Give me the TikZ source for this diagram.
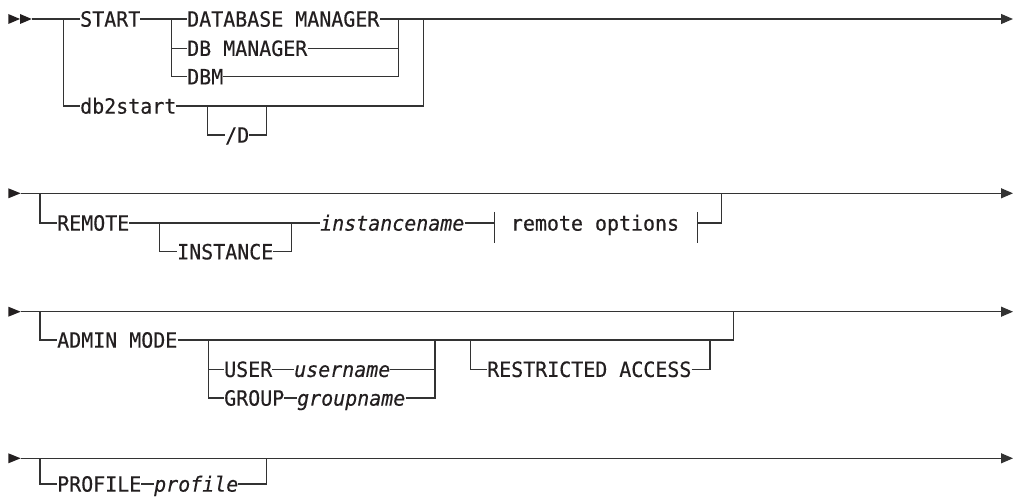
\documentclass[tikz,border=0pt]{standalone}
\usepackage{fontspec}
\setmonofont{DejaVu Sans Mono}[FakeStretch=0.95,FakeBold=0.4]
\usetikzlibrary{arrows.meta}
\definecolor{Rail}{HTML}{333333}
\definecolor{Ink}{HTML}{231F20}

\begin{document}
\begin{tikzpicture}[x=1pt,y=-1pt,
    rail/.style={Rail,line width=1.2pt},
    kw/.style={anchor=west,inner sep=0pt,text height=15.3pt,text depth=0pt,text=Ink,font=\ttfamily\fontsize{21}{25}\selectfont},
    var/.style={kw,font=\ttfamily\itshape\fontsize{21}{25}\selectfont},
    tip/.style={-{Triangle[length=12pt,width=10pt]}}]
    \useasboundingbox (0,0) rectangle (1015,497);
    \coordinate (s1) at (31.7,19);\coordinate (e1) at (1013,19);
    \coordinate (a1) at (63.3,19);\coordinate (b1) at (423.3,19);
    \coordinate (a2) at (171.7,19);\coordinate (b2) at (398.3,19);
    \coordinate (c2) at (207.3,106);\coordinate (d2) at (266.7,106);
    \node[kw] (start) at (80,19) {START};
    \node[kw] (dbm1) at (187,19) {DATABASE MANAGER};
    \node[kw] (dbm2) at (187,48.3) {DB MANAGER};
    \node[kw] (dbm3) at (187,76.7) {DBM};
    \node[kw] (db2) at (80,106) {db2start};
    \node[kw] (sd) at (225,135) {/D};
    \fill[Ink] (8.3,14) -- (20,19) -- (8.3,24) -- cycle;
    \fill[Ink] (20,14) -- (31.7,19) -- (20,24) -- cycle;
    \draw[rail] (s1) -- (start);\draw[rail] (start) -- (dbm1);\draw[rail,tip] (dbm1) -- (e1);
    \draw[rail] (a1) |- (db2);\draw[rail] (db2) -| (b1);
    \draw[rail] (a2) |- (dbm2);\draw[rail] (a2) |- (dbm3);
    \draw[rail] (dbm2) -| (b2);\draw[rail] (dbm3) -| (b2);
    \draw[rail] (c2) |- (sd);\draw[rail] (sd) -| (d2);

    \coordinate (s2) at (20.7,193.3);\coordinate (e2) at (1013,193.3);
    \coordinate (a3) at (40,193.3);\coordinate (j2) at (721.7,193.3);
    \coordinate (c3) at (159.3,223);\coordinate (d3) at (291.7,223);
    \coordinate (ro1) at (494.3,223);\coordinate (ro2) at (697.7,223);
    \node[kw] (remote) at (57,223) {REMOTE};
    \node[kw] (inst) at (177,251.7) {INSTANCE};
    \node[var] (instname) at (320,223) {instancename};
    \node[kw,anchor=center] (remopt) at (595,223) {remote options};
    \fill[Ink] (8.3,188.3) -- (20.7,193.3) -- (8.3,198.3) -- cycle;
    \draw[rail,tip] (s2) -- (e2);
    \draw[rail] (a3) |- (remote);\draw[rail] (remote) -- (instname);
    \draw[rail] (c3) |- (inst);\draw[rail] (inst) -| (d3);
    \draw[rail] (instname) -- (ro1);
    \draw[rail] ([yshift=11pt]ro1) -- ([yshift=-20pt]ro1);
    \draw[rail] ([yshift=11pt]ro2) -- ([yshift=-20pt]ro2);
    \draw[rail] (ro2) -| (j2);

    \coordinate (s3) at (20.7,311.7);\coordinate (e3) at (1013,311.7);
    \coordinate (a4) at (40,311.7);\coordinate (j3) at (733.3,311.7);
    \coordinate (c5) at (208.3,340);\coordinate (d6) at (435,340);
    \coordinate (c7) at (470.7,340);\coordinate (d7) at (710,340);
    \node[kw] (admin) at (57,340) {ADMIN MODE};
    \node[kw] (user) at (224,369.3) {USER};
    \node[var] (uname) at (294,369.3) {username};
    \node[kw] (group) at (224,398) {GROUP};
    \node[var] (gname) at (297,398) {groupname};
    \node[kw] (restr) at (487,369.3) {RESTRICTED ACCESS};
    \fill[Ink] (8.3,306.7) -- (20.7,311.7) -- (8.3,316.7) -- cycle;
    \draw[rail,tip] (s3) -- (e3);
    \draw[rail] (a4) |- (admin);\draw[rail] (admin) -| (j3);
    \draw[rail] (c5) |- (user);\draw[rail] (c5) |- (group);
    \draw[rail] (user) -- (uname);\draw[rail] (group) -- (gname);
    \draw[rail] (uname) -| (d6);\draw[rail] (gname) -| (d6);
    \draw[rail] (c7) |- (restr);\draw[rail] (restr) -| (d7);

    \coordinate (s4) at (20.7,458.3);\coordinate (e4) at (1013,458.3);
    \coordinate (a5) at (40,458.3);\coordinate (j5) at (266.7,458.3);
    \node[kw] (prof) at (57,484) {PROFILE};
    \node[var] (profv) at (154,484) {profile};
    \fill[Ink] (8.3,453.3) -- (20.7,458.3) -- (8.3,463.3) -- cycle;
    \draw[rail,tip] (s4) -- (e4);
    \draw[rail] (a5) |- (prof);\draw[rail] (prof) -- (profv);\draw[rail] (profv) -| (j5);
  \end{tikzpicture}
\end{document}
